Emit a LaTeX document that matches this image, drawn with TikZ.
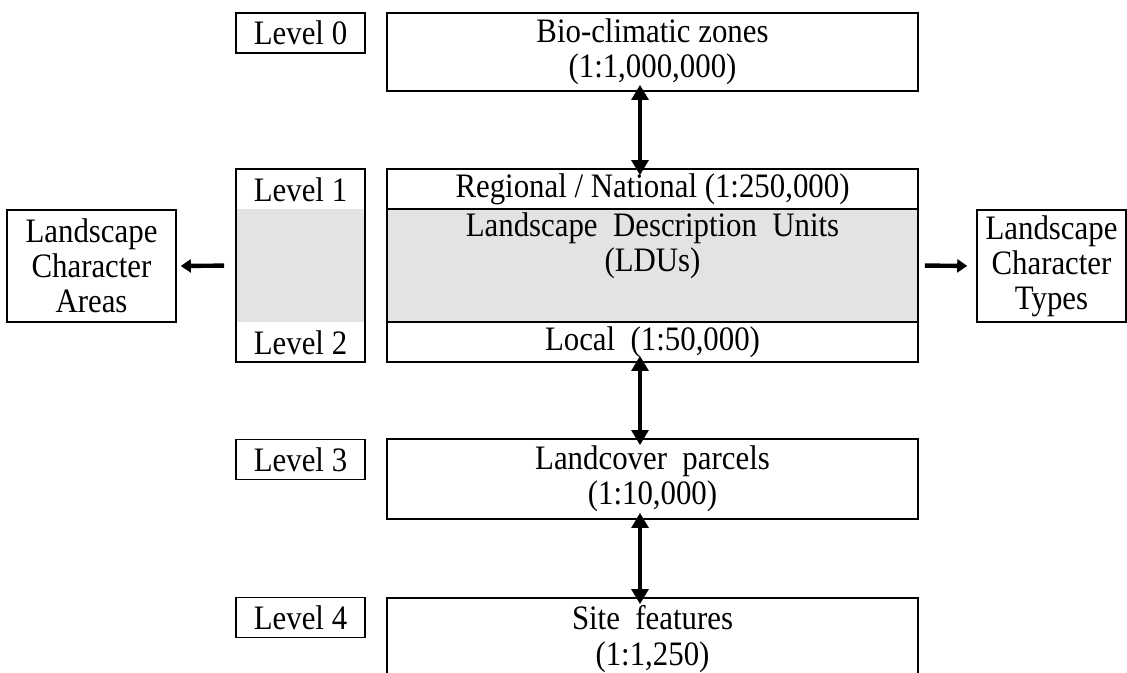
\documentclass[tikz,border=0pt]{standalone}
\usepackage{fontspec}
\setmainfont{Liberation Serif}[FakeStretch=0.9]
\usetikzlibrary{arrows.meta}
\definecolor{ldugray}{RGB}{227,227,227}
\begin{document}
\begin{tikzpicture}[
        box/.style={rectangle, draw, line width=0.9pt, inner sep=0pt, align=center, font=\fontsize{19.5}{20}\selectfont},
        levelbox/.style={box, minimum width=2.58cm, minimum height=0.8cm},
        scalebox/.style={box, minimum width=10.62cm},
        rowbox/.style={box, minimum width=10.62cm, minimum height=0.8cm},
        sidebox/.style={box, minimum height=2.24cm},
        shaded/.style={rectangle, fill=ldugray, inner sep=0pt},
        plain/.style={inner sep=0pt, align=center, font=\fontsize{19.5}{20}\selectfont},
        both/.style={{Triangle[length=0.3cm,width=0.33cm]}-{Triangle[length=0.3cm,width=0.33cm]}, line width=2.8pt, shorten <=-0.14cm, shorten >=-0.14cm},
        side/.style={-{Triangle[length=0.2cm,width=0.26cm]}, line width=2.5pt}
    ]
    \useasboundingbox (0,0) rectangle (22.54,-13.44);

    % Level 0
    \node[levelbox] (lv0) at (6.01,-0.66) {Level 0};
    \node[scalebox, minimum height=1.56cm] (bio) at (13.05,-1.04) {Bio-climatic zones\\(1:1,000,000)};

    % Levels 1 and 2
    \node[shaded, minimum width=2.58cm, minimum height=2.26cm] (colgray) at (6.01,-5.31) {};
    \node[box, minimum width=2.58cm, minimum height=3.86cm] (col) at (6.01,-5.31) {};
    \node[plain] (lv1) at (6.01,-3.8) {Level 1};
    \node[plain] (lv2) at (6.01,-6.86) {Level 2};

    \node[rowbox] (regional) at (13.05,-3.78) {Regional / National (1:250,000)};
    \node[rowbox, fill=ldugray, minimum height=2.26cm] (ldu) at (13.05,-5.31) {};
    \node[plain, anchor=north] (ldutext) at (13.05,-4.24) {Landscape\ \ Description\ \ Units\\(LDUs)};
    \node[rowbox] (local) at (13.05,-6.84) {Local\ \ (1:50,000)};

    % Character areas and types
    \node[sidebox, minimum width=3.38cm] (lca) at (1.83,-5.32) {Landscape\\Character\\Areas};
    \node[sidebox, minimum width=2.98cm] (lct) at (21.03,-5.32) {Landscape\\Character\\Types};

    % Level 3
    \node[levelbox] (lv3) at (6.01,-9.19) {Level 3};
    \node[scalebox, minimum height=1.6cm] (land) at (13.05,-9.58) {Landcover\ \ parcels\\(1:10,000)};

    % Level 4
    \node[levelbox] (lv4) at (6.01,-12.35) {Level 4};
    \node[scalebox, minimum height=1.64cm] (site) at (13.05,-12.78) {Site\ \ features\\(1:1,250)};

    % Arrows
    \draw[both] ([xshift=-0.25cm]bio.south) -- ([xshift=-0.25cm]regional.north);
    \draw[both] ([xshift=-0.25cm]local.south) -- ([xshift=-0.25cm]land.north);
    \draw[both] ([xshift=-0.25cm]land.south) -- ([xshift=-0.25cm]site.north);
    \draw[side, shorten <=0.22cm, shorten >=0.08cm] (col.west) -- (lca.east);
    \draw[side, shorten <=0.12cm, shorten >=0.18cm] (ldu.east) -- (lct.west);

    \end{tikzpicture}
\end{document}
